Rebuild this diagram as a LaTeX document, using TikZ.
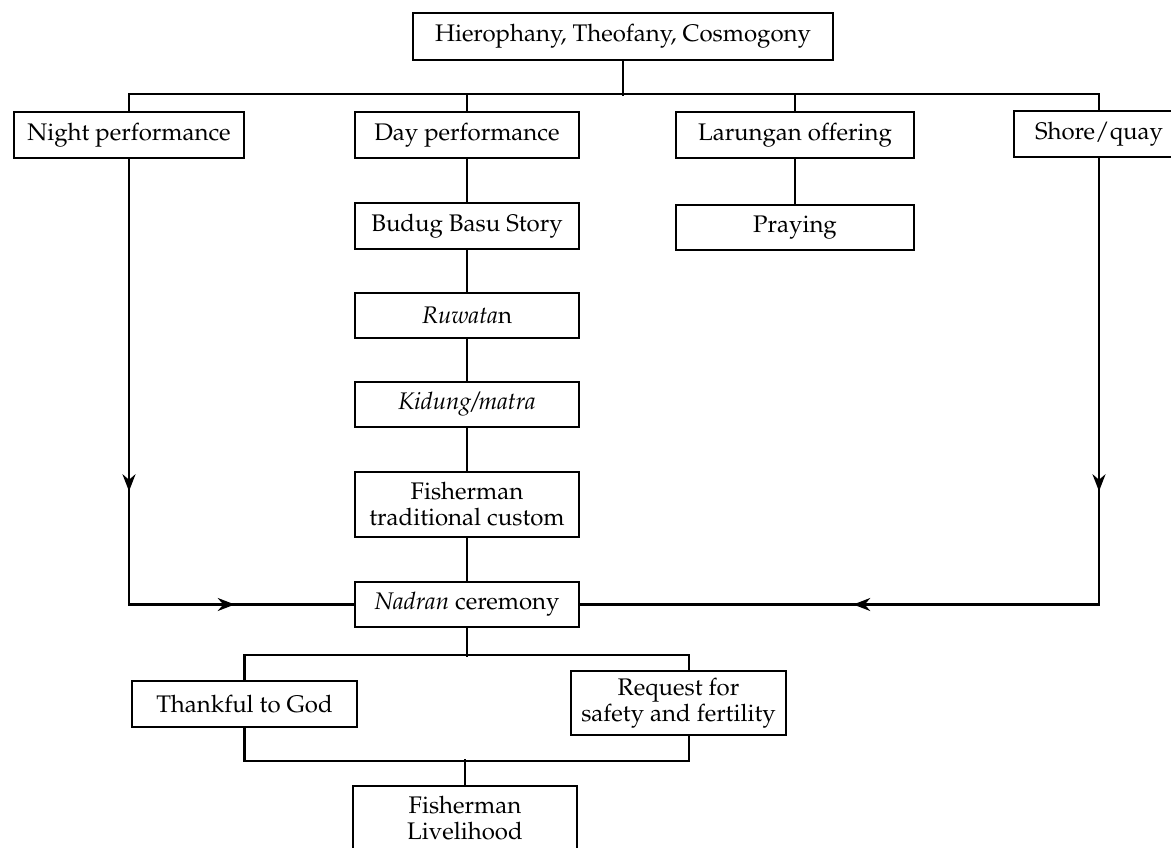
\documentclass[tikz,border=0pt]{standalone}
\usepackage[T1]{fontenc}
\renewcommand{\rmdefault}{ppl}
\usetikzlibrary{arrows.meta,decorations.markings}

\begin{document}
\begin{tikzpicture}[x=1pt,y=-1pt,
  box/.style={draw,line width=2.5pt,inner sep=0pt,align=center,
    font=\fontsize{24}{26}\selectfont},
  link/.style={line width=2.3pt},
  flowtip/.tip={Stealth[length=17pt,width=13pt]},
  flow/.style 2 args={link,postaction={decorate},decoration={markings,
    mark=at position #1 with {\arrow{flowtip}},
    mark=at position #2 with {\arrow{flowtip}}}},
]
\useasboundingbox (0,0) rectangle (1171,848);

% top concept
\node[box,minimum width=420pt,minimum height=47pt] (top) at (623,36.5)
  {Hierophany, Theofany, Cosmogony};

% first row
\node[box,minimum width=230pt,minimum height=46pt] (night) at (129,135) {Night performance};
\node[box,minimum width=224pt,minimum height=46pt] (day) at (467,135) {Day performance};
\node[box,minimum width=238pt,minimum height=46pt] (larung) at (795,135) {Larungan offering};
\node[box,minimum width=170pt,minimum height=46pt] (shore) at (1099,134) {Shore/quay};

% central column
\node[box,minimum width=224pt,minimum height=46pt] (budug) at (467,226) {Budug Basu Story};
\node[box,minimum width=224pt,minimum height=45pt] (ruwat) at (467,315.5) {\textit{Ruwata}n};
\node[box,minimum width=224pt,minimum height=45pt] (kidung) at (467,404.5) {\textit{Kidung/matra}};
\node[box,minimum width=224pt,minimum height=65pt] (custom) at (467,504.5) {Fisherman\\traditional custom};
\node[box,minimum width=224pt,minimum height=45pt] (nadran) at (467,604.5) {\textit{Nadran} ceremony};

\node[box,minimum width=238pt,minimum height=45pt] (pray) at (795,227.5) {Praying};

% outcomes
\node[box,minimum width=225pt,minimum height=46pt] (thank) at (244.5,704) {Thankful to God};
\node[box,minimum width=215pt,minimum height=64pt] (request) at (678.5,703) {Request for\\safety and fertility};
\node[box,minimum width=224pt,minimum height=64pt] (live) at (465,818) {Fisherman\\Livelihood};

% branching from the top concept
\draw[link] (top.south) -- ++(0,35);
\draw[link] (night.north) -- ++(0,-17) -| (shore.north);
\draw[link] (day.north) -- ++(0,-17);
\draw[link] (larung.north) -- ++(0,-17);

% central chain
\draw[link] (day) -- (budug);
\draw[link] (budug) -- (ruwat);
\draw[link] (ruwat) -- (kidung);
\draw[link] (kidung) -- (custom);
\draw[link] (custom) -- (nadran);
\draw[link] (larung) -- (pray);

% side flows into the ceremony
\draw[flow={332pt}{551pt}] (night.south) |- (nadran.west);
\draw[flow={333pt}{692pt}] (shore.south) |- (nadran.east);

% outcomes of the ceremony
\draw[link] (nadran.south) -- ++(0,29);
\draw[link] (thank.north) -- ++(0,-25) -| ([xshift=10.5pt]request.north);
\draw[link] (thank.south) -- ++(0,33) -| ([xshift=10.5pt]request.south);
\draw[link] (live.north) -- ++(0,-26);
\end{tikzpicture}
\end{document}
